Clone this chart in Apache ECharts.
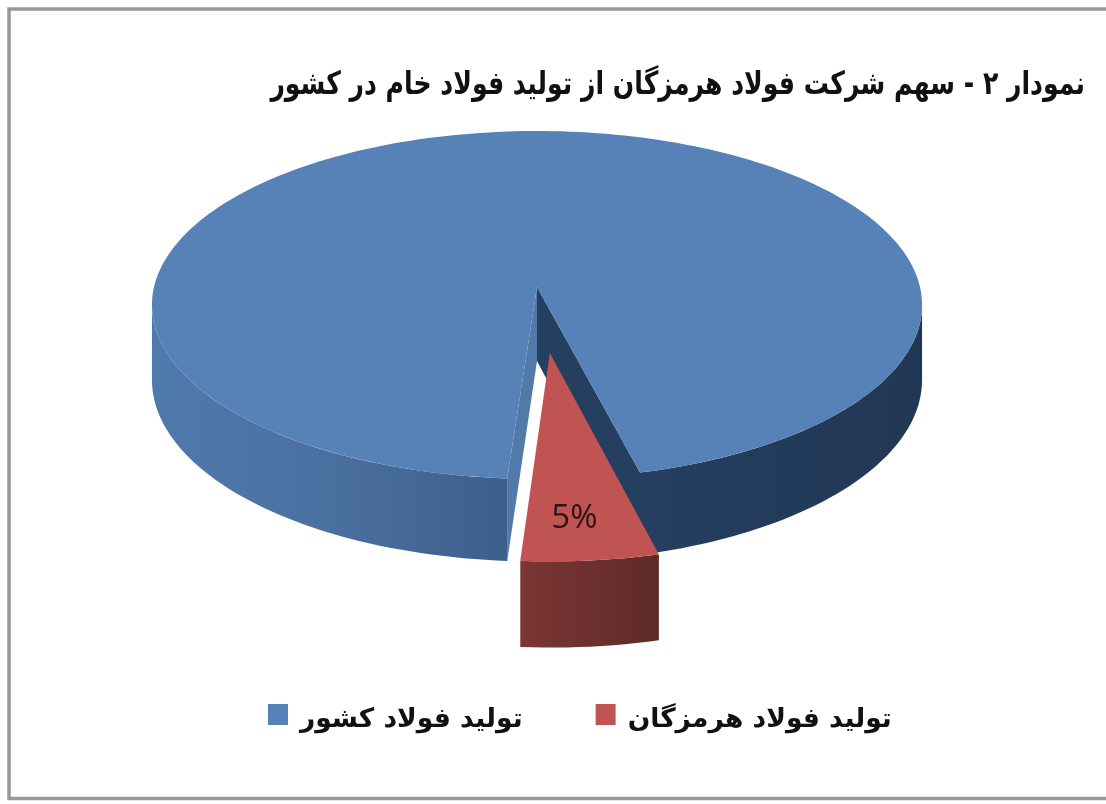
<!DOCTYPE html>
<html><head><meta charset="utf-8">
<style>html,body{margin:0;padding:0;background:#fff}#c{width:1106px;height:804px}</style>
<script src="https://cdn.jsdelivr.net/npm/echarts@6/dist/echarts.min.js"></script>
</head><body><div id="c"></div>
<script>
const titleText = 'نمودار ۲ - سهم شرکت فولاد هرمزگان از تولید فولاد خام در کشور';
const categories = ['تولید فولاد کشور', 'تولید فولاد هرمزگان'];
const shares = [95, 5];
const colors = ['#5782b8', '#c05452'];
const labelled = [false, true];

const FONT = '"DejaVu Sans"';
const cx = 537, cy = 287, R = 383, Ry = 172.1, P = 0.1034, H = 74;
const START = 14;           // degrees, measured from the front, turning right
const EXPLODE = [0, 0.37];  // per-slice pull-out, in radii
const rad = d => d * Math.PI / 180;
const SIDE = Math.acos(P) * 180 / Math.PI; // where the rim is widest on screen
const total = shares.reduce((a, b) => a + b, 0);

function project(X, Z, down) {
  const s = 1 / (1 - P * Z);
  return [cx + R * X * s, cy + Ry * Z * s + (down ? H * s : 0)];
}
function sliceGeom(i, value) {
  let a0 = START;
  for (let k = 0; k < i; k++) a0 += shares[k] / total * 360;
  const a1 = a0 + value / total * 360;
  const mid = (a0 + a1) / 2;
  const e = EXPLODE[i];
  return { a0, a1, ox: e * Math.sin(rad(mid)), oz: e * Math.cos(rad(mid)) };
}
function rim(g, from, to, down) {
  const pts = [], n = Math.max(2, Math.ceil(Math.abs(to - from) / 1.5));
  for (let k = 0; k <= n; k++) {
    const t = rad(from + (to - from) * k / n);
    pts.push(project(g.ox + Math.sin(t), g.oz + Math.cos(t), down));
  }
  return pts;
}
function outerWall(g, from, to, stops) {
  const pts = rim(g, from, to, false).concat(rim(g, to, from, true));
  return { type: 'polygon', shape: { points: pts }, silent: true,
    style: { fill: { type: 'linear', x: 0, y: 0, x2: 1, y2: 0, colorStops: stops } } };
}
function cutWall(g, a, fill) {
  const t = rad(a), ox = g.ox + Math.sin(t), oz = g.oz + Math.cos(t);
  return { type: 'polygon', silent: true,
    shape: { points: [project(g.ox, g.oz, false), project(ox, oz, false), project(ox, oz, true), project(g.ox, g.oz, true)] },
    style: { fill } };
}
function topFace(g, color) {
  const pts = [project(g.ox, g.oz, false)].concat(rim(g, g.a0, g.a1, false));
  return { type: 'polygon', shape: { points: pts }, silent: true, style: { fill: color } };
}
const stopsOf = arr => arr.map((c, i) => ({ offset: i / (arr.length - 1), color: c }));

function renderSlice(i) {
  return function (params, api) {
    const g = sliceGeom(i, api.value(0)), kids = [];
    if (i === 0) {
      kids.push(cutWall(g, g.a0, '#253f60'));
      kids.push(cutWall(g, g.a1, '#527aa8'));
      kids.push(outerWall(g, g.a0, SIDE, stopsOf(['#263f60', '#233b5a', '#213855'])));
      kids.push(outerWall(g, 360 - SIDE, g.a1, stopsOf(['#5079ad', '#4a70a0', '#3c5f8c'])));
    } else {
      kids.push(outerWall(g, g.a0, g.a1, stopsOf(['#7c3634', '#6c302f', '#5e2a28'])));
    }
    kids.push(topFace(g, colors[i]));
    if (labelled[i]) {
      const m = rad((g.a0 + g.a1) / 2);
      const p = project(g.ox + 0.8 * Math.sin(m), g.oz + 0.8 * Math.cos(m), false);
      kids.push({ type: 'text', silent: true, style: {
        x: p[0] - 7, y: p[1] + 4, text: api.value(0) + '%', fill: '#2a1414',
        font: '400 33px "Open Sans"', align: 'center', verticalAlign: 'middle' } });
    }
    return { type: 'group', children: kids };
  };
}

const chart = echarts.init(document.getElementById('c'), null, { renderer: 'canvas' });
chart.setOption({
  animation: false,
  backgroundColor: '#ffffff',
  legend: { left: 268, top: 704, padding: 0, icon: 'rect', itemWidth: 20, itemHeight: 21, itemGap: 73,
    data: categories,
    formatter: '{a|{name}}',
    textStyle: { rich: { a: { fontFamily: FONT, fontWeight: 'bold', fontSize: 26.5, color: '#111', padding: [12, 0, 0, 7] } } } },
  graphic: [
    { type: 'text', silent: true, x: 1085, y: 86, scaleX: 0.785,
      style: { text: titleText, font: 'bold 32px ' + FONT, fill: '#111', align: 'right', verticalAlign: 'middle' } },
    { type: 'rect', silent: true, z: 100,
      shape: { x: 9, y: 9, width: 1110, height: 789.5 },
      style: { fill: 'transparent', stroke: '#989898', lineWidth: 3.5 } }
  ],
  series: categories.map((name, i) => ({
    type: 'custom', name, coordinateSystem: 'none',
    itemStyle: { color: colors[i] },
    data: [[shares[i]]],
    renderItem: renderSlice(i)
  }))
});
</script></body></html>
